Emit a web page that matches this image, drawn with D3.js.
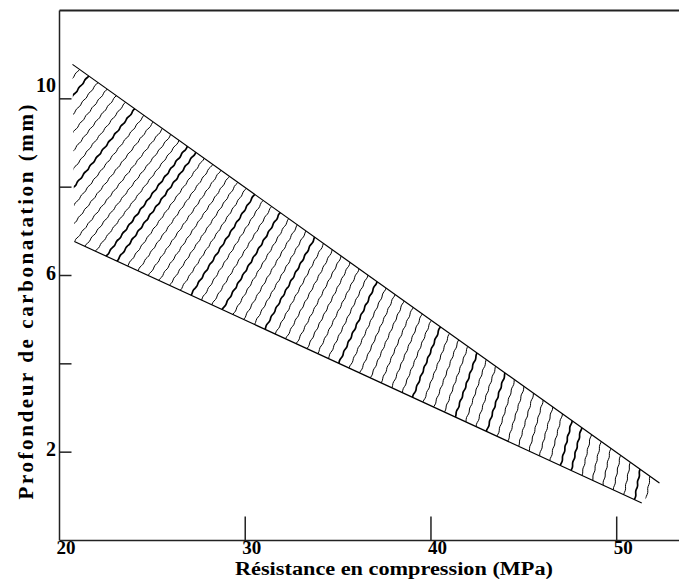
<!DOCTYPE html>
<html>
<head>
<meta charset="utf-8">
<script src="https://cdn.jsdelivr.net/npm/d3@7/dist/d3.min.js"></script>
<style>
  html, body { margin: 0; padding: 0; background: #fff; }
  svg { display: block; }
  text { font-family: "Liberation Serif", "DejaVu Serif", serif; font-weight: bold; fill: #000; }
</style>
</head>
<body>
<script>
// ---- data ----
const xTicks = [20, 30, 40, 50];
const xTickLabels = ["20", "30", "40", "50"];
const yTicks = [2, 4, 6, 8, 10];
const yTickLabels = {2: "2", 6: "6", 10: "10"};
// band boundaries (MPa, mm)
const upperX = [20.7, 52.3];
const upperY = [10.78, 1.30];
const lowerX = [20.8, 51.35];
const lowerY = [6.77, 0.85];
const xTitle = "Résistance en compression (MPa)";
const yTitle = "Profondeur  de carbonatation (mm)";

const W = 679, H = 579;
const svg = d3.select("body").append("svg").attr("width", W).attr("height", H);

const x = d3.scaleLinear().domain([20, 50]).range([59.5, 616.7]);
const y = d3.scaleLinear().domain([0, 12]).range([540.5, 10.5]);

// frame
svg.append("line").attr("x1", x(20)).attr("x2", W + 5).attr("y1", y(12)).attr("y2", y(12))
  .attr("stroke", "#222").attr("stroke-width", 2);
svg.append("line").attr("x1", x(20)).attr("x2", W + 5).attr("y1", y(0)).attr("y2", y(0))
  .attr("stroke", "#222").attr("stroke-width", 1.5);
svg.append("line").attr("x1", x(20)).attr("x2", x(20)).attr("y1", y(12)).attr("y2", y(0))
  .attr("stroke", "#222").attr("stroke-width", 1.5);

// x ticks (inward)
svg.selectAll(".xt").data(xTicks.slice(1)).enter().append("line")
  .attr("x1", d => x(d)).attr("x2", d => x(d)).attr("y1", y(0)).attr("y2", y(0) - 24)
  .attr("stroke", "#222").attr("stroke-width", 1.5);
svg.selectAll(".xl").data(xTicks).enter().append("text")
  .attr("x", d => x(d) - 3).attr("y", 554).attr("font-size", 19)
  .attr("text-anchor", "start").text((d, i) => xTickLabels[i]);

// y ticks (inward)
svg.selectAll(".yt").data(yTicks).enter().append("line")
  .attr("x1", x(20)).attr("x2", x(20) + 12).attr("y1", d => y(d)).attr("y2", d => y(d))
  .attr("stroke", "#222").attr("stroke-width", 1.5);
svg.selectAll(".yl").data(yTicks.filter(d => yTickLabels[d])).enter().append("text")
  .attr("x", 56).attr("y", d => y(d) + (d === 10 ? -7 : 4)).attr("font-size", 20)
  .attr("text-anchor", "end").text(d => yTickLabels[d]);

// titles
svg.append("text").attr("x", 235).attr("y", 574.5).attr("font-size", 18)
  .attr("textLength", 318).attr("lengthAdjust", "spacingAndGlyphs").text(xTitle);
svg.append("text").attr("transform", "translate(33,302) rotate(-90)")
  .attr("text-anchor", "middle").attr("font-size", 21)
  .attr("textLength", 395).attr("lengthAdjust", "spacing").text(yTitle);

// band
const up = upperX.map((v, i) => [x(v), y(upperY[i])]);
const lo = lowerX.map((v, i) => [x(v), y(lowerY[i])]);
const poly = up.concat(lo.slice().reverse());

svg.append("clipPath").attr("id", "band").append("polygon")
  .attr("points", poly.map(p => p.join(",")).join(" "));

const loAt = px => lo[0][1] + (px - lo[0][0]) * (lo[1][1] - lo[0][1]) / (lo[1][0] - lo[0][0]);
const upAt = px => up[0][1] + (px - up[0][0]) * (up[1][1] - up[0][1]) / (up[1][0] - up[0][0]);

const hatch = svg.append("g").attr("clip-path", "url(#band)");
const spacing = 10.6;
const xL = lo[0][0], xR = lo[1][0];
const lineGen = d3.line().curve(d3.curveBasis);
let k = 0;
for (let xb = xL - 140; xb < up[1][0] + 5; xb += spacing, k++) {
  const t = Math.max(0, Math.min(1, (xb - xL) / (xR - xL)));
  const th = (52 + 28 * t) * Math.PI / 180;
  const y0 = loAt(xb) + 4;
  const dirx = Math.cos(th), diry = -Math.sin(th);
  const len = (y0 - upAt(xb)) / Math.sin(th) + 40;
  const pts = [];
  for (let s = -2; s <= len; s += 2) {
    const w = 0.55 * Math.sin(2 * Math.PI * s / 10 + k);
    pts.push([xb + dirx * s + (-diry) * w, y0 + diry * s + dirx * w]);
  }
  hatch.append("path").attr("d", lineGen(pts)).attr("fill", "none")
    .attr("stroke", "#000").attr("stroke-width", (k % 7 === 3 || k % 11 === 5) ? 1.7 : 1);
}

// boundaries
svg.append("path").attr("d", d3.line()(up)).attr("stroke", "#000").attr("stroke-width", 1.2).attr("fill", "none");
svg.append("path").attr("d", d3.line()(lo)).attr("stroke", "#000").attr("stroke-width", 1.2).attr("fill", "none");
</script>
</body>
</html>
